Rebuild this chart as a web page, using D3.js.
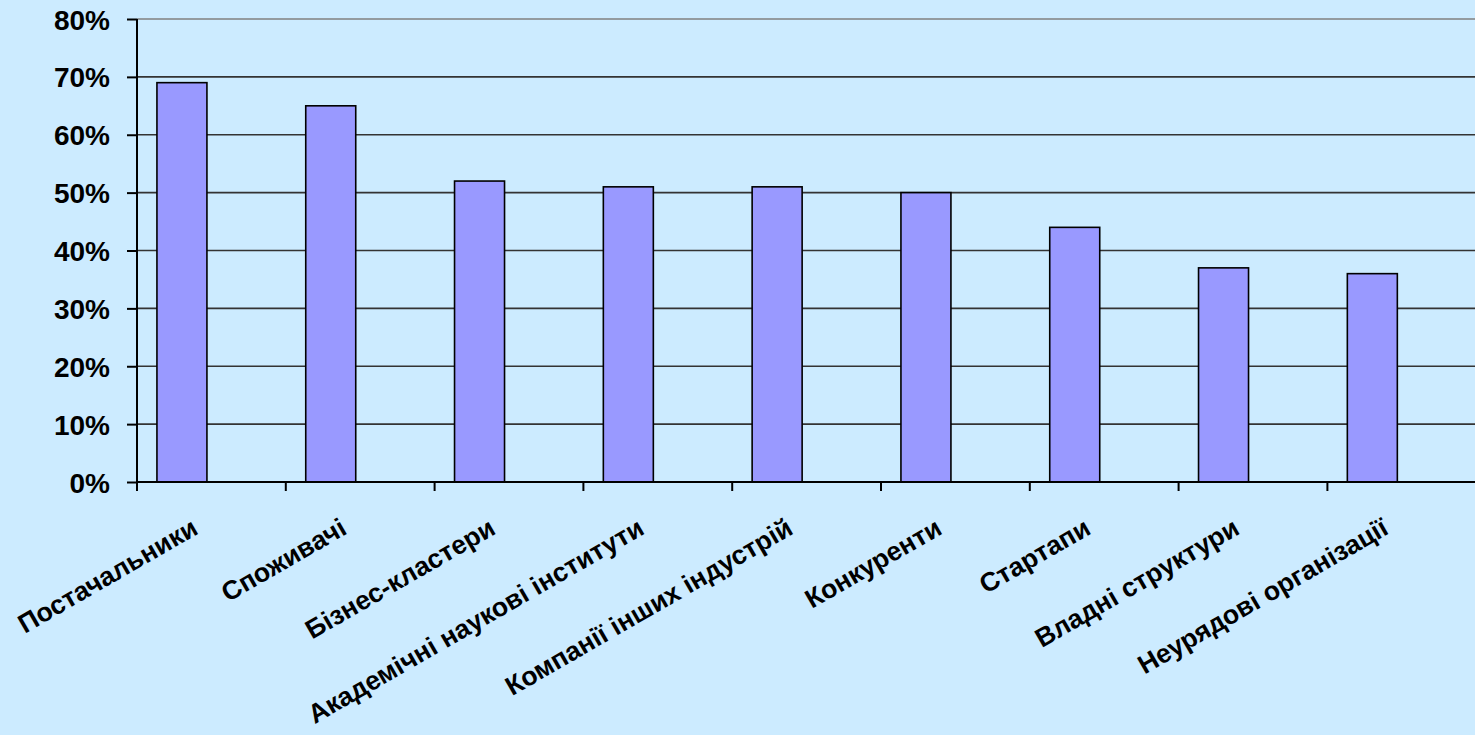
<!DOCTYPE html>
<html>
<head>
<meta charset="utf-8">
<script src="https://cdn.jsdelivr.net/npm/d3@7"></script>
<style>
  html, body { margin: 0; padding: 0; background: #CCEBFF; }
  svg { display: block; }
  text { font-family: "Liberation Sans", Arial, sans-serif; font-weight: bold; fill: #000; }
</style>
</head>
<body>
<svg id="chart" width="1475" height="735"></svg>
<script>
const categories = [
  "Постачальники",
  "Споживачі",
  "Бізнес-кластери",
  "Академічні наукові інститути",
  "Компанії інших індустрій",
  "Конкуренти",
  "Стартапи",
  "Владні структури",
  "Неурядові організації"
];
const values = [0.69, 0.65, 0.52, 0.51, 0.51, 0.50, 0.44, 0.37, 0.36];
const yTicks = [0, 0.1, 0.2, 0.3, 0.4, 0.5, 0.6, 0.7, 0.8];

const svg = d3.select("#chart");
const W = 1475, H = 735;
svg.append("rect").attr("width", W).attr("height", H).attr("fill", "#CCEBFF");

const x0 = 137, bandW = 148.8;
const x = d3.scaleBand().domain(categories).range([x0, x0 + bandW * categories.length]).paddingInner(0).paddingOuter(0);
const y = d3.scaleLinear().domain([0, 0.8]).range([482, 19]);

// gridlines
svg.append("g").selectAll("line").data(yTicks.filter(d => d > 0)).join("line")
  .attr("x1", x0).attr("x2", W)
  .attr("y1", d => y(d)).attr("y2", d => y(d))
  .attr("stroke", d => d === 0.8 ? "#808080" : "#333333")
  .attr("stroke-width", 1.6);

// bars
const bw = x.bandwidth();
svg.append("g").selectAll("rect").data(categories).join("rect")
  .attr("x", (d) => x(d) + bw * 0.134)
  .attr("width", bw * 0.336)
  .attr("y", (d, i) => y(values[i]))
  .attr("height", (d, i) => y(0) - y(values[i]))
  .attr("fill", "#9999FF")
  .attr("stroke", "#000")
  .attr("stroke-width", 1.6);

// y axis
const yAxis = d3.axisLeft(y).tickValues(yTicks).tickFormat(d3.format(".0%")).tickSize(10).tickPadding(17);
const gy = svg.append("g").attr("transform", `translate(${x0},0)`).call(yAxis);
gy.select(".domain").attr("stroke", "#000").attr("stroke-width", 2).attr("d", `M0,${y(0.8)}V${y(0) + 9}`);
gy.selectAll(".tick line").attr("stroke", "#000").attr("stroke-width", 2);
gy.selectAll(".tick text").attr("font-size", 28).attr("font-family", "Liberation Sans, Arial, sans-serif")
  .attr("font-weight", "bold").attr("fill", "#000").attr("dy", "0.36em");

// x axis
const gx = svg.append("g");
gx.append("line").attr("x1", x0).attr("x2", W).attr("y1", y(0)).attr("y2", y(0))
  .attr("stroke", "#000").attr("stroke-width", 2);
gx.selectAll("line.tk").data(categories).join("line").attr("class", "tk")
  .attr("x1", d => x(d)).attr("x2", d => x(d))
  .attr("y1", y(0)).attr("y2", y(0) + 9)
  .attr("stroke", "#000").attr("stroke-width", 2);

gx.selectAll("text.lbl").data(categories).join("text").attr("class", "lbl")
  .attr("transform", d => `translate(${x(d) + bw * 0.42},${y(0) + 51}) rotate(-30)`)
  .attr("text-anchor", "end")
  .attr("font-size", 26.5)
  .text(d => d);
</script>
</body>
</html>
